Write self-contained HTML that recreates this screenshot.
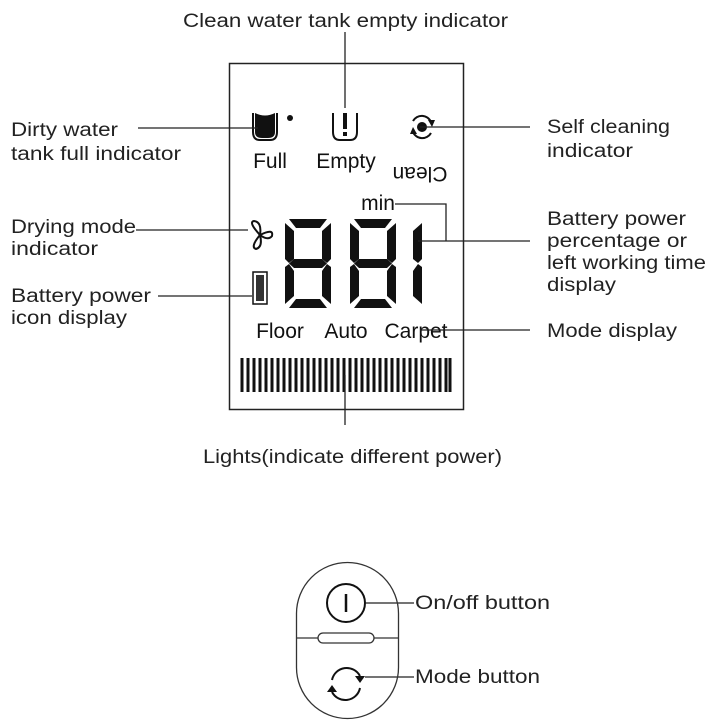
<!DOCTYPE html>
<html><head><style>
body{margin:0;background:#fff;}
svg{display:block;font-family:"Liberation Sans",sans-serif;}
.l{font-size:19px;fill:#222;}
.s{font-size:21px;fill:#111;}
</style></head><body>
<svg width="717" height="724" viewBox="0 0 717 724">
<defs>
<g id="dig" fill="#111">
<polygon points="4,0 42,0 35,9 11,9"/>
<polygon points="46,4 46,40 42,44 37,40 37,12"/>
<polygon points="46,48 46,85 37,77 37,52 42,45"/>
<polygon points="11,80 35,80 42,89 4,89"/>
<polygon points="0,48 4,45 9,52 9,77 0,85"/>
<polygon points="0,4 9,12 9,40 4,44 0,40"/>
<polygon points="9,40 37,40 42,44.5 37,49 9,49 4,44.5"/>
</g>
</defs>
<rect x="229.5" y="63.5" width="234" height="346" fill="none" stroke="#222" stroke-width="1.5"/>
<path d="M253,113 L253,132 Q253,140 260,140 L270,140 Q277,140 277,132 L277,113" fill="none" stroke="#111" stroke-width="2"/>
<path d="M255,113 Q265,118 275,113 L275,132 Q275,138 268,138 L262,138 Q255,138 255,132Z" fill="#111"/>
<circle cx="290" cy="118" r="3" fill="#111"/>
<path d="M333,113 L333,132 Q333,140 340,140 L350,140 Q357,140 357,132 L357,113" fill="none" stroke="#111" stroke-width="2"/>
<rect x="343" y="113" width="4" height="16" fill="#111"/>
<rect x="343" y="132" width="4" height="4" fill="#111"/>
<path d="M413,121 A10,10 0 0 1 431,122" fill="none" stroke="#111" stroke-width="2"/>
<path d="M431,133 A10,10 0 0 1 413,132" fill="none" stroke="#111" stroke-width="2"/>
<polygon points="428,120 435,120 432,127" fill="#111"/>
<polygon points="410,134 417,134 413,127" fill="#111"/>
<circle cx="422" cy="127" r="5" fill="#111"/>
<text x="270" y="168" class="s" text-anchor="middle">Full</text>
<text x="346" y="168" class="s" text-anchor="middle">Empty</text>
<text x="420" y="153" class="s" text-anchor="middle" transform="rotate(180 420 160)">Clean</text>
<text x="378" y="210" class="s" text-anchor="middle">min</text>
<g fill="none" stroke="#111" stroke-width="2">
<path d="M260,235 Q248,222 254,221 Q262,222 260,235Z"/>
<path d="M260,235 Q274,228 272,236 Q268,241 260,235Z"/>
<path d="M260,235 Q250,247 256,249 Q263,247 260,235Z"/>
</g>
<rect x="253" y="272" width="14" height="32" fill="none" stroke="#111" stroke-width="1.5"/>
<rect x="256" y="275" width="8" height="26" fill="#333"/>
<use href="#dig" x="285" y="219"/>
<use href="#dig" x="350" y="219"/>
<polygon points="422,223 422,259 418,263 413,259 413,231" fill="#111"/>
<polygon points="422,267 422,304 413,296 413,271 418,264" fill="#111"/>
<text x="280" y="338" class="s" text-anchor="middle">Floor</text>
<text x="346" y="338" class="s" text-anchor="middle">Auto</text>
<text x="416" y="338" class="s" text-anchor="middle">Carpet</text>
<g stroke="#111" stroke-width="3">
<path d="M242,358V392M248,358V392M254,358V392M260,358V392M266,358V392M272,358V392M278,358V392M284,358V392M290,358V392M296,358V392M302,358V392M308,358V392M314,358V392M320,358V392M326,358V392M332,358V392M338,358V392M344,358V392M350,358V392M356,358V392M362,358V392M368,358V392M374,358V392M380,358V392M386,358V392M392,358V392M398,358V392M404,358V392M410,358V392M416,358V392M422,358V392M428,358V392M434,358V392M440,358V392M446,358V392M450,358V392"/>
</g>
<g stroke="#222" stroke-width="1.3" fill="none">
<path d="M138,128H258"/>
<path d="M345,32V108"/>
<path d="M420,127H530"/>
<path d="M136,230H248"/>
<path d="M158,296H252"/>
<path d="M395,204H446V241M418,241H530"/>
<path d="M420,330H530"/>
<path d="M345,375V425"/>
<path d="M366,603H414M365,677H414"/>
</g>
<g lengthAdjust="spacingAndGlyphs">
<text x="183" y="27" class="l" textLength="325" lengthAdjust="spacingAndGlyphs">Clean water tank empty indicator</text>
<text x="11" y="136" class="l" textLength="107" lengthAdjust="spacingAndGlyphs">Dirty water</text>
<text x="11" y="160" class="l" textLength="170" lengthAdjust="spacingAndGlyphs">tank full indicator</text>
<text x="547" y="133" class="l" textLength="123" lengthAdjust="spacingAndGlyphs">Self cleaning</text>
<text x="547" y="157" class="l" textLength="86" lengthAdjust="spacingAndGlyphs">indicator</text>
<text x="11" y="233" class="l" textLength="125" lengthAdjust="spacingAndGlyphs">Drying mode</text>
<text x="11" y="255" class="l" textLength="87" lengthAdjust="spacingAndGlyphs">indicator</text>
<text x="547" y="225" class="l" textLength="139" lengthAdjust="spacingAndGlyphs">Battery power</text>
<text x="547" y="247" class="l" textLength="140" lengthAdjust="spacingAndGlyphs">percentage or</text>
<text x="547" y="269" class="l" textLength="159" lengthAdjust="spacingAndGlyphs">left working time</text>
<text x="547" y="291" class="l" textLength="69" lengthAdjust="spacingAndGlyphs">display</text>
<text x="11" y="302" class="l" textLength="140" lengthAdjust="spacingAndGlyphs">Battery power</text>
<text x="11" y="324" class="l" textLength="116" lengthAdjust="spacingAndGlyphs">icon display</text>
<text x="547" y="337" class="l" textLength="130" lengthAdjust="spacingAndGlyphs">Mode display</text>
<text x="203" y="463" class="l" textLength="299" lengthAdjust="spacingAndGlyphs">Lights(indicate different power)</text>
<text x="415" y="609" class="l" textLength="135" lengthAdjust="spacingAndGlyphs">On/off button</text>
<text x="415" y="683" class="l" textLength="125" lengthAdjust="spacingAndGlyphs">Mode button</text>
</g>
<rect x="296.5" y="562.5" width="102" height="156" rx="51" fill="none" stroke="#333" stroke-width="1.3"/>
<path d="M297,638H398" stroke="#333" stroke-width="1.3"/>
<rect x="318" y="633" width="56" height="10" rx="5" fill="#fff" stroke="#333" stroke-width="1.3"/>
<circle cx="346" cy="603" r="19" fill="none" stroke="#111" stroke-width="2"/>
<path d="M346,594V612" stroke="#111" stroke-width="2.5"/>
<g fill="none" stroke="#111" stroke-width="2">
<path d="M332,680 A15,15 0 0 1 360,676"/>
<path d="M360,688 A15,15 0 0 1 332,692"/>
</g>
<polygon points="355,676 365,676 360,683" fill="#111"/>
<polygon points="327,692 337,692 332,685" fill="#111"/>
</svg>
</body></html>
